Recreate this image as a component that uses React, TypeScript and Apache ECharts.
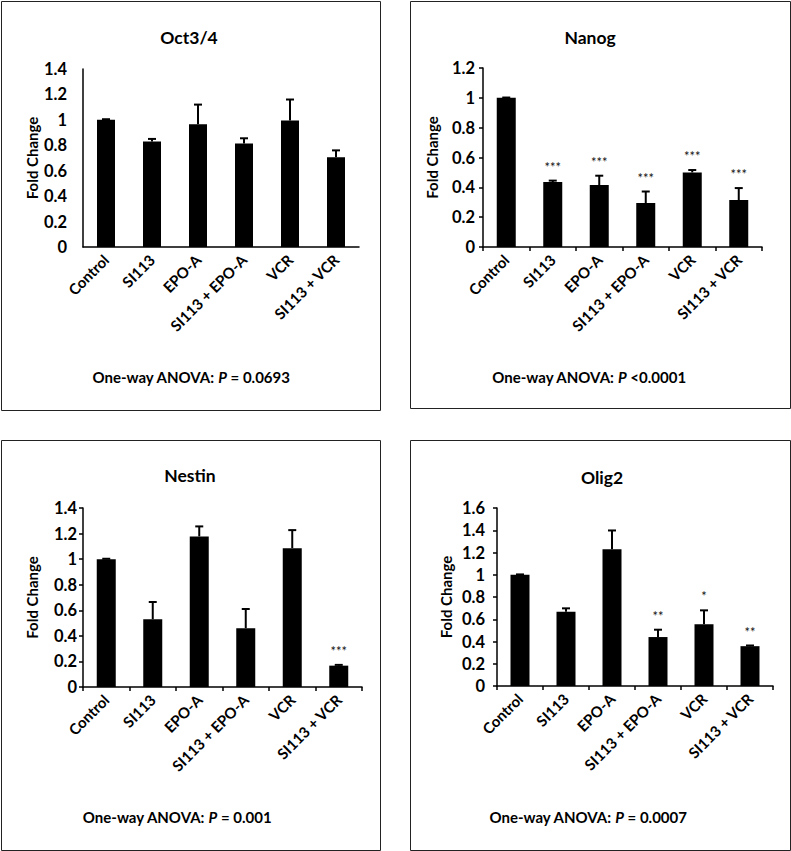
import React, { useEffect, useRef } from 'react';
import * as echarts from 'echarts';

const categories = ['Control', 'SI113', 'EPO-A', 'SI113 + EPO-A', 'VCR', 'SI113 + VCR'];

const oct34Mean = [1.0, 0.83, 0.965, 0.815, 0.995, 0.705];
const oct34Err = [0.005, 0.02, 0.155, 0.04, 0.165, 0.055];
const oct34Stars = ['', '', '', '', '', ''];

const nanogMean = [1.0, 0.435, 0.415, 0.295, 0.5, 0.315];
const nanogErr = [0.002, 0.01, 0.063, 0.077, 0.016, 0.08];
const nanogStars = ['', '***', '***', '***', '***', '***'];

const nestinMean = [1.0, 0.53, 1.178, 0.46, 1.086, 0.167];
const nestinErr = [0.003, 0.135, 0.078, 0.15, 0.141, 0.006];
const nestinStars = ['', '', '', '', '', '***'];

const olig2Mean = [1.0, 0.668, 1.23, 0.44, 0.556, 0.358];
const olig2Err = [0.003, 0.03, 0.168, 0.066, 0.124, 0.006];
const olig2Stars = ['', '', '', '**', '*', '**'];

const yMaxes = [1.4, 1.2, 1.4, 1.6];
const titles = ['Oct3/4', 'Nanog', 'Nestin', 'Olig2'];
const anovaValues = ['= 0.0693', '<0.0001', '= 0.001', '= 0.0007'];

const FONT = 'Lato, "Open Sans", "Noto Sans", sans-serif';

const panels = [
  { mean: oct34Mean, err: oct34Err, stars: oct34Stars, grid: { left: 83, top: 69, width: 276, height: 178 }, ticks: false, labelMargin: 16, box: [1, 1, 379, 409], titleX: 189, titleY: 37, anovaX: 191, anovaY: 377, barWidth: 18 },
  { mean: nanogMean, err: nanogErr, stars: nanogStars, grid: { left: 483, top: 68, width: 279, height: 179 }, ticks: true, labelMargin: 8, box: [410, 1, 380, 407], titleX: 590, titleY: 37, anovaX: 589, anovaY: 377, barWidth: 19 },
  { mean: nestinMean, err: nestinErr, stars: nestinStars, grid: { left: 83, top: 508, width: 279, height: 179 }, ticks: true, labelMargin: 6, box: [1, 440, 379, 410], titleX: 190, titleY: 475, anovaX: 177, anovaY: 817, barWidth: 19 },
  { mean: olig2Mean, err: olig2Err, stars: olig2Stars, grid: { left: 497, top: 508, width: 276, height: 178 }, ticks: true, labelMargin: 12, box: [410, 440, 380, 410], titleX: 602, titleY: 477, anovaX: 588, anovaY: 817, barWidth: 19 },
];

function buildOption() {
  const grid: any[] = [];
  const xAxis: any[] = [];
  const yAxis: any[] = [];
  const series: any[] = [];
  const graphic: any[] = [];

  panels.forEach((p, k) => {
    grid.push({ ...p.grid, containLabel: false });
    xAxis.push({
      type: 'category',
      gridIndex: k,
      data: categories,
      axisLine: { lineStyle: { color: '#000', width: 1.5 } },
      axisTick: { show: p.ticks, length: 4, lineStyle: { color: '#000', width: 1.5 } },
      axisLabel: { rotate: 45, margin: 10, color: '#000', fontWeight: 'bold', fontSize: 15, fontFamily: FONT, interval: 0 },
      splitLine: { show: false },
    });
    yAxis.push({
      type: 'value',
      gridIndex: k,
      min: 0,
      max: yMaxes[k],
      interval: 0.2,
      name: 'Fold Change',
      nameLocation: 'middle',
      nameRotate: 90,
      nameGap: 44,
      nameTextStyle: { color: '#000', fontWeight: 'bold', fontSize: 15, fontFamily: FONT },
      axisLine: { show: true, lineStyle: { color: '#000', width: 1.5 } },
      axisTick: { show: p.ticks, length: 4, lineStyle: { color: '#000', width: 1.5 } },
      axisLabel: { margin: p.labelMargin, color: '#000', fontWeight: 'bold', fontSize: 16.5, fontFamily: FONT },
      splitLine: { show: false },
    });
    series.push({
      type: 'bar',
      xAxisIndex: k,
      yAxisIndex: k,
      data: p.mean,
      barWidth: p.barWidth,
      itemStyle: { color: '#000' },
      z: 2,
    });
    const stars = p.stars;
    series.push({
      type: 'custom',
      xAxisIndex: k,
      yAxisIndex: k,
      data: p.mean.map((m, i) => [i, m, p.err[i]]),
      encode: { x: 0, y: 1 },
      z: 3,
      renderItem: (params: any, api: any) => {
        const i = api.value(0);
        const m = api.value(1);
        const e = api.value(2);
        const base = api.coord([i, m]);
        const top = api.coord([i, m + e]);
        const children: any[] = [
          { type: 'line', shape: { x1: base[0], y1: base[1], x2: top[0], y2: top[1] }, style: { stroke: '#000', lineWidth: 2 } },
          { type: 'line', shape: { x1: top[0] - 4, y1: top[1], x2: top[0] + 4, y2: top[1] }, style: { stroke: '#000', lineWidth: 2 } },
        ];
        const s = stars[params.dataIndex];
        if (s) {
          children.push({
            type: 'text',
            x: top[0],
            y: top[1] - 14,
            style: { text: s, textAlign: 'center', textVerticalAlign: 'middle', fontSize: 13, fontFamily: FONT, fill: '#111' },
          });
        }
        return { type: 'group', children };
      },
    });

    graphic.push({
      type: 'rect',
      shape: { x: p.box[0] + 0.5, y: p.box[1] + 0.5, width: p.box[2], height: p.box[3] },
      style: { fill: 'none', stroke: '#222', lineWidth: 1 },
      silent: true,
    });
    graphic.push({
      type: 'text',
      x: p.titleX,
      y: p.titleY,
      style: { text: titles[k], textAlign: 'center', textVerticalAlign: 'middle', fontSize: 17.5, fontWeight: 'bold', fontFamily: FONT, fill: '#000' },
    });
    graphic.push({
      type: 'text',
      x: p.anovaX,
      y: p.anovaY,
      style: {
        text: '{a|One-way ANOVA: }{b|P}{a| ' + anovaValues[k] + '}',
        textAlign: 'center',
        textVerticalAlign: 'middle',
        rich: {
          a: { fontSize: 15, fontWeight: 'bold', fontFamily: FONT, fill: '#000', color: '#000' },
          b: { fontSize: 15, fontWeight: 'bold', fontStyle: 'italic', fontFamily: FONT, fill: '#000', color: '#000' },
        },
      },
    });
  });

  return { animation: false, backgroundColor: '#fff', grid, xAxis, yAxis, series, graphic };
}

export default function App() {
  const ref = useRef<HTMLDivElement>(null);
  useEffect(() => {
    const chart = echarts.init(ref.current!, null, { renderer: 'svg' });
    chart.setOption(buildOption() as any);
    return () => chart.dispose();
  }, []);
  return (
    <div
      ref={ref}
      style={{ position: 'absolute', left: 0, top: 0, width: 791, height: 851, background: '#fff' }}
    />
  );
}
